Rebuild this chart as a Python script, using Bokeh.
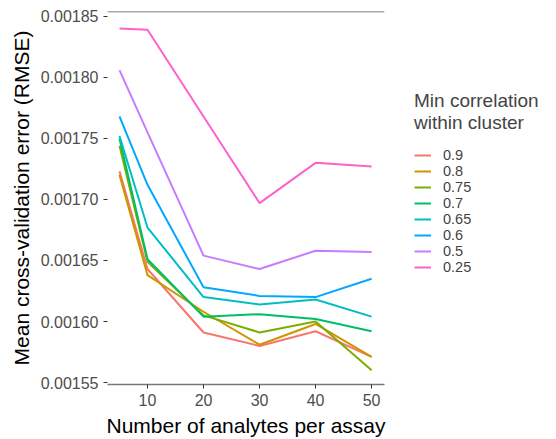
from bokeh.plotting import figure
from bokeh.models import Legend, LegendItem, FixedTicker, PrintfTickFormatter, Range1d, Span
from bokeh.embed import file_html
from bokeh.resources import INLINE

analytes = [5, 10, 20, 30, 40, 50]
levels = ["0.9", "0.8", "0.75", "0.7", "0.65", "0.6", "0.5", "0.25"]
colors = ["#F8766D", "#CD9600", "#7CAE00", "#00BE67", "#00BFC4", "#00A9FF", "#C77CFF", "#FF61CC"]
err_09 = [0.001723, 0.001643, 0.001591, 0.001580, 0.001592, 0.001571]
err_08 = [0.001720, 0.001638, 0.001608, 0.001581, 0.001598, 0.001571]
err_075 = [0.001744, 0.001649, 0.001605, 0.001591, 0.001600, 0.001560]
err_07 = [0.001750, 0.001651, 0.001604, 0.001606, 0.001602, 0.001592]
err_065 = [0.001752, 0.001677, 0.001620, 0.001614, 0.001618, 0.001604]
err_06 = [0.001768, 0.001712, 0.001628, 0.001621, 0.001620, 0.001635]
err_05 = [0.001806, 0.001755, 0.001654, 0.001643, 0.001658, 0.001657]
err_025 = [0.001840, 0.001839, 0.001768, 0.001697, 0.001730, 0.001727]
series = [err_09, err_08, err_075, err_07, err_065, err_06, err_05, err_025]
y_ticks = [0.00155, 0.00160, 0.00165, 0.00170, 0.00175, 0.00180, 0.00185]
x_ticks = [10, 20, 30, 40, 50]

FONT = "Liberation Sans"

p = figure(frame_width=277, frame_height=373, output_backend="svg", toolbar_location=None,
           x_range=Range1d(2.86, 52.3), y_range=Range1d(0.0015484, 0.001854),
           min_border_left=107, min_border_right=0, min_border_top=11, min_border_bottom=40)
p.xgrid.visible = False
p.ygrid.visible = False
p.outline_line_color = None
p.background_fill_color = "white"

items = []
for lab, col, ys in zip(levels, colors, series):
    r = p.line(analytes, ys, line_color=col, line_width=2)
    items.append(LegendItem(label=lab, renderers=[r]))

p.xaxis.ticker = FixedTicker(ticks=x_ticks)
p.yaxis.ticker = FixedTicker(ticks=y_ticks)
p.yaxis.formatter = PrintfTickFormatter(format="%.5f")
for ax in (p.xaxis[0], p.yaxis[0]):
    ax.major_label_text_font = FONT
    ax.major_label_text_font_size = "16px"
    ax.major_label_text_color = "#4D4D4D"
    ax.major_tick_line_color = "#333333"
    ax.major_tick_in = 0
    ax.major_tick_out = 4
    ax.minor_tick_line_color = None
    ax.axis_label_text_font = FONT
    ax.axis_label_text_font_size = "21px"
    ax.axis_label_text_font_style = "normal"
    ax.axis_label_text_color = "black"
p.xaxis.axis_line_color = "#777777"
p.xaxis.axis_line_width = 1.5
p.yaxis.axis_line_color = None
p.xaxis.axis_label = "Number of analytes per assay"
p.yaxis.axis_label = "Mean cross-validation error (RMSE)"

top = Span(location=0.001854, dimension="width", line_color="#555555", line_width=1.5)
p.add_layout(top)

legend = Legend(items=items, location=(30, 109), title="Min correlation\nwithin cluster",
                title_text_font=FONT, title_text_font_size="19px", title_text_font_style="normal",
                title_standoff=13,
                label_text_font=FONT, label_text_font_size="14.5px", label_standoff=12,
                glyph_width=17, glyph_height=14, label_height=14, spacing=0,
                border_line_color=None, background_fill_alpha=0, padding=0, margin=0)
p.add_layout(legend, "right")

open("out.html", "w").write(file_html(p, INLINE))
